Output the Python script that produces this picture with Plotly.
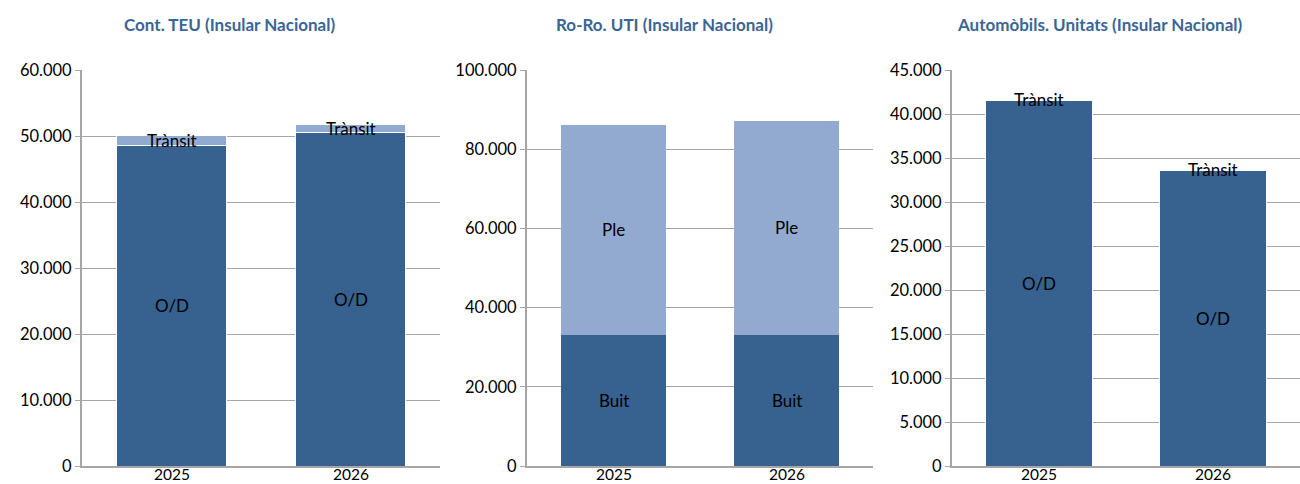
import plotly.graph_objects as go

years = ["2025", "2026"]

titles = ["Cont. TEU (Insular Nacional)", "Ro-Ro. UTI (Insular Nacional)", "Automòbils. Unitats (Insular Nacional)"]

teu_od = [48600, 50500]
teu_transit = [1500, 1200]

ro_buit = [33200, 33200]
ro_ple = [52900, 53900]

auto_od = [41500, 33550]
auto_transit = [200, 200]

y_ranges = [[0, 60000], [0, 100000], [0, 45000]]
y_dticks = [10000, 20000, 5000]

DARK = "#37618f"
LIGHT = "#93aad0"
TITLE_C = "#3a6597"
GRID = "#a6a6a6"
FONT = "Lato, 'Open Sans', sans-serif"

W, H = 1300, 484
x_px = [(82, 440), (527, 873), (952, 1300)]
y_px = (70, 466)
title_centers = [229, 664, 1099]

fig = go.Figure()

panels = [
    (teu_od, "O/D", teu_transit, "Trànsit", True),
    (ro_buit, "Buit", ro_ple, "Ple", False),
    (auto_od, "O/D", auto_transit, "Trànsit", True),
]

annotations = []
for i, (bottom, bname, top, tname, wline) in enumerate(panels):
    xa = "x" if i == 0 else f"x{i+1}"
    ya = "y" if i == 0 else f"y{i+1}"
    lw = 1 if wline else 0
    fig.add_trace(go.Bar(x=years, y=bottom, name=bname, marker=dict(color=DARK, line=dict(color="white", width=lw)),
                         xaxis=xa, yaxis=ya, showlegend=False))
    fig.add_trace(go.Bar(x=years, y=top, name=tname, marker=dict(color=LIGHT, line=dict(color="white", width=lw)),
                         xaxis=xa, yaxis=ya, showlegend=False))
    for k in range(len(years)):
        annotations.append(dict(x=k, y=bottom[k] / 2, xref=xa, yref=ya, text=bname, showarrow=False,
                                font=dict(family=FONT, size=17, color="#000000")))
        annotations.append(dict(x=k, y=bottom[k] + top[k] / 2, xref=xa, yref=ya, text=tname, showarrow=False,
                                font=dict(family=FONT, size=17, color="#000000")))
        # category labels under the axis
        annotations.append(dict(x=k, y=0, xref=xa, yref=ya, text=years[k], showarrow=False,
                                yanchor="top", yshift=2, borderpad=0,
                                font=dict(family=FONT, size=15.5, color="#000000")))
    annotations.append(dict(x=title_centers[i] / W, y=1 - 25 / H, xref="paper", yref="paper",
                            xanchor="center", yanchor="middle",
                            text=f"<b>{titles[i]}</b>", showarrow=False,
                            font=dict(family=FONT, size=17, color=TITLE_C)))

layout = dict(
    width=W, height=H, barmode="stack", bargap=0.39,
    paper_bgcolor="white", plot_bgcolor="white",
    margin=dict(l=0, r=0, t=0, b=0, autoexpand=False),
    separators=",.",
    font=dict(family=FONT, size=16, color="#000000"),
    annotations=annotations,
)
for i in range(3):
    x0, x1 = x_px[i]
    xk = "xaxis" if i == 0 else f"xaxis{i+1}"
    yk = "yaxis" if i == 0 else f"yaxis{i+1}"
    ya = "y" if i == 0 else f"y{i+1}"
    xa = "x" if i == 0 else f"x{i+1}"
    layout[xk] = dict(type="category", range=[-0.5, 1.5], domain=[x0 / W, x1 / W], anchor=ya, showline=True,
                      linecolor=GRID, linewidth=2, showgrid=False, ticks="", showticklabels=False)
    layout[yk] = dict(domain=[1 - y_px[1] / H, 1 - y_px[0] / H], anchor=xa, range=y_ranges[i], dtick=y_dticks[i],
                      tickformat=",.0f", showline=True, linecolor=GRID, linewidth=2, showgrid=True,
                      gridcolor=GRID, gridwidth=1, zeroline=False, ticks="outside", ticklen=5, tickcolor=GRID,
                      tickfont=dict(family=FONT, size=16.5, color="#000000"))

fig.update_layout(**layout)
fig.write_html("out.html", config={"displayModeBar": False},
               post_script="document.body.style.margin='0';document.body.style.overflow='hidden';")
